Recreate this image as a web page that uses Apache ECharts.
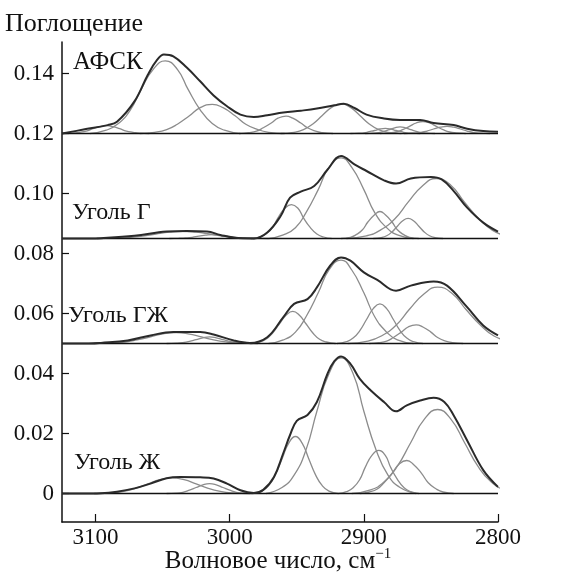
<!DOCTYPE html>
<html>
<head>
<meta charset="utf-8">
<script src="https://cdn.jsdelivr.net/npm/echarts@6/dist/echarts.min.js"></script>
<style>
  html, body { margin: 0; padding: 0; background: #fff; }
  #chart { width: 568px; height: 581px; }
</style>
</head>
<body>
<div id="chart"></div>
<script>
// ИК-спектры, разложение полосы 3100-2800 см-1 на компоненты
// значения поглощения даны относительно базовой линии каждой панели
const panelNames = ['АФСК', 'Уголь Г', 'Уголь ГЖ', 'Уголь Ж']
const panelOffsets = [0.12, 0.085, 0.05, 0]
const xTicks = [3100, 3000, 2900, 2800]
const yTicks = [0, 0.02, 0.04, 0.06, 0.08, 0.10, 0.12, 0.14]

// АФСК
const afskSum = [[3125,0],[3109,0.0013],[3091,0.0028],[3084,0.0039],[3071,0.0107],[3061,0.0196],[3054,0.0246],[3049,0.0263],[3042,0.0257],[3032,0.022],[3022,0.0174],[3012,0.0127],[3002,0.0091],[2992,0.0063],[2982,0.0055],[2972,0.0061],[2960,0.007],[2947,0.0076],[2935,0.0083],[2922,0.0094],[2915,0.0099],[2907,0.0085],[2898,0.0063],[2885,0.005],[2873,0.0045],[2858,0.0045],[2848,0.0035],[2833,0.0028],[2823,0.0016],[2811,0.0008],[2800,0.0006]]
const afskBands = [
  [[3124,0],[3117,0.0001],[3112,0.0004],[3107,0.0008],[3102,0.0016],[3097,0.0023],[3092,0.0026],[3087,0.0023],[3082,0.0016],[3077,0.0008],[3072,0.0004],[3067,0.0001],[3060,0]],
  [[3104,0],[3092,0.0011],[3083,0.0033],[3074,0.0079],[3066,0.0147],[3057,0.0214],[3048,0.0242],[3039,0.0214],[3031,0.0147],[3022,0.0079],[3013,0.0033],[3004,0.0011],[2992,0]],
  [[3067,0],[3056,0.0004],[3047,0.0013],[3039,0.0031],[3030,0.0059],[3022,0.0086],[3013,0.0097],[3005,0.0086],[2996,0.0059],[2988,0.0031],[2979,0.0013],[2971,0.0004],[2959,0]],
  [[2993,0],[2986,0.0003],[2980,0.0008],[2975,0.0019],[2969,0.0035],[2964,0.0051],[2958,0.0058],[2953,0.0051],[2947,0.0035],[2942,0.0019],[2936,0.0008],[2931,0.0003],[2923,0]],
  [[2962,0],[2952,0.0004],[2945,0.0013],[2938,0.0032],[2931,0.006],[2924,0.0087],[2917,0.0099],[2910,0.0087],[2903,0.006],[2896,0.0032],[2889,0.0013],[2882,0.0004],[2872,0]],
  [[2910,0],[2904,0.0001],[2900,0.0002],[2896,0.0006],[2892,0.001],[2888,0.0015],[2884,0.0017],[2880,0.0015],[2876,0.001],[2872,0.0006],[2868,0.0002],[2864,0.0001],[2858,0]],
  [[2899,0],[2893,0.0001],[2889,0.0003],[2885,0.0007],[2881,0.0013],[2877,0.0019],[2873,0.0022],[2869,0.0019],[2865,0.0013],[2861,0.0007],[2857,0.0003],[2853,0.0001],[2847,0]],
  [[2888,0],[2881,0.0002],[2876,0.0005],[2871,0.0013],[2866,0.0024],[2861,0.0035],[2856,0.004],[2851,0.0035],[2846,0.0024],[2841,0.0013],[2836,0.0005],[2831,0.0002],[2824,0]],
  [[2870,0],[2863,0.0001],[2858,0.0003],[2853,0.0008],[2848,0.0015],[2843,0.0021],[2838,0.0024],[2833,0.0021],[2828,0.0015],[2823,0.0008],[2818,0.0003],[2813,0.0001],[2806,0]]
]

// Уголь Г
const coalGSum = [[3125,0],[3105,0],[3096,0.0001],[3071,0.0009],[3047,0.0023],[3032,0.0025],[3017,0.0023],[3007,0.0012],[2997,0.0003],[2982,0],[2972,0.002],[2962,0.0075],[2955,0.0136],[2947,0.0156],[2937,0.0175],[2927,0.023],[2917,0.0275],[2907,0.0247],[2898,0.0225],[2885,0.0194],[2876,0.0183],[2865,0.02],[2850,0.0205],[2842,0.0197],[2833,0.0158],[2823,0.0103],[2811,0.0053],[2800,0.0023]]
const coalGBands = [
  [[3099,0],[3085,0.0001],[3075,0.0003],[3065,0.0008],[3055,0.0015],[3045,0.0021],[3035,0.0024],[3025,0.0021],[3015,0.0015],[3005,0.0008],[2995,0.0003],[2985,0.0001],[2971,0]],
  [[3045,0],[3038,0.0001],[3033,0.0002],[3028,0.0004],[3023,0.0008],[3018,0.0011],[3013,0.0013],[3008,0.0011],[3003,0.0008],[2998,0.0004],[2993,0.0002],[2988,0.0001],[2981,0]],
  [[2984,0],[2978,0.0005],[2973,0.0015],[2968,0.0037],[2964,0.0069],[2959,0.01],[2954,0.0113],[2949,0.01],[2945,0.0069],[2940,0.0037],[2935,0.0015],[2930,0.0005],[2924,0]],
  [[2971,0],[2960,0.0012],[2951,0.0036],[2943,0.0087],[2934,0.0163],[2926,0.0237],[2917,0.0269],[2909,0.0237],[2900,0.0163],[2892,0.0087],[2883,0.0036],[2875,0.0012],[2863,0]],
  [[2917,0],[2910,0.0004],[2906,0.0012],[2901,0.0029],[2897,0.0055],[2892,0.0079],[2888,0.009],[2884,0.0079],[2879,0.0055],[2875,0.0029],[2870,0.0012],[2866,0.0004],[2859,0]],
  [[2893,0],[2887,0.0003],[2883,0.0009],[2879,0.0022],[2875,0.0041],[2871,0.0059],[2867,0.0067],[2863,0.0059],[2859,0.0041],[2855,0.0022],[2851,0.0009],[2847,0.0003],[2841,0]],
  [[2913,0],[2898,0.0009],[2888,0.0027],[2877,0.0065],[2867,0.0121],[2856,0.0177],[2846,0.02],[2835,0.0177],[2825,0.0121],[2814,0.0065],[2804,0.0027],[2794,0.0009],[2779,0]]
]

// Уголь ГЖ
const coalGJSum = [[3125,0],[3105,0],[3096,0.0002],[3076,0.001],[3059,0.0027],[3042,0.0038],[3022,0.0038],[3012,0.003],[2997,0.001],[2985,0.0002],[2972,0.0021],[2960,0.0088],[2952,0.0132],[2942,0.0148],[2935,0.0187],[2925,0.026],[2917,0.0287],[2910,0.0276],[2900,0.0237],[2890,0.0212],[2876,0.0176],[2865,0.0193],[2848,0.0207],[2838,0.0193],[2823,0.0121],[2811,0.006],[2800,0.0027]]
const coalGJBands = [
  [[3101,0],[3088,0.0002],[3078,0.0005],[3069,0.0012],[3059,0.0022],[3050,0.0032],[3040,0.0036],[3031,0.0032],[3021,0.0022],[3012,0.0012],[3002,0.0005],[2993,0.0002],[2979,0]],
  [[3047,0],[3040,0.0001],[3035,0.0003],[3030,0.0007],[3025,0.0013],[3020,0.0019],[3015,0.0022],[3010,0.0019],[3005,0.0013],[3000,0.0007],[2995,0.0003],[2990,0.0001],[2983,0]],
  [[2985,0],[2978,0.0005],[2973,0.0014],[2968,0.0035],[2963,0.0065],[2958,0.0094],[2953,0.0107],[2948,0.0094],[2943,0.0065],[2938,0.0035],[2933,0.0014],[2928,0.0005],[2921,0]],
  [[2971,0],[2960,0.0012],[2951,0.0038],[2943,0.009],[2934,0.0169],[2926,0.0245],[2917,0.0278],[2909,0.0245],[2900,0.0169],[2892,0.009],[2883,0.0038],[2875,0.0012],[2863,0]],
  [[2920,0],[2913,0.0006],[2908,0.0018],[2903,0.0043],[2898,0.008],[2893,0.0116],[2888,0.0132],[2883,0.0116],[2878,0.008],[2873,0.0043],[2868,0.0018],[2863,0.0006],[2856,0]],
  [[2896,0],[2889,0.0003],[2883,0.0008],[2878,0.002],[2872,0.0038],[2867,0.0055],[2861,0.0062],[2856,0.0055],[2850,0.0038],[2845,0.002],[2839,0.0008],[2834,0.0003],[2826,0]],
  [[2912,0],[2897,0.0008],[2887,0.0025],[2876,0.0061],[2866,0.0114],[2855,0.0166],[2845,0.0188],[2834,0.0166],[2824,0.0114],[2813,0.0061],[2803,0.0025],[2792,0.0008],[2778,0]]
]

// Уголь Ж
const coalJSum = [[3125,0],[3110,0],[3096,0.0001],[3084,0.0006],[3071,0.0017],[3059,0.0033],[3047,0.0051],[3037,0.0055],[3022,0.0054],[3012,0.005],[3002,0.0033],[2992,0.0011],[2982,0.0002],[2975,0.0012],[2967,0.0055],[2960,0.0135],[2955,0.0195],[2950,0.0242],[2942,0.0262],[2935,0.0305],[2927,0.04],[2922,0.0441],[2917,0.0457],[2910,0.0432],[2903,0.0382],[2895,0.0344],[2885,0.0305],[2876,0.0274],[2868,0.0294],[2858,0.031],[2848,0.0319],[2840,0.0305],[2833,0.026],[2823,0.0177],[2811,0.0078],[2800,0.0022]]
const coalJBands = [
  [[3101,0],[3088,0.0002],[3079,0.0007],[3070,0.0017],[3061,0.0032],[3052,0.0046],[3043,0.0052],[3034,0.0046],[3025,0.0032],[3016,0.0017],[3007,0.0007],[2998,0.0002],[2985,0]],
  [[3047,0],[3040,0.0001],[3035,0.0004],[3030,0.0011],[3025,0.002],[3020,0.0029],[3015,0.0033],[3010,0.0029],[3005,0.002],[3000,0.0011],[2995,0.0004],[2990,0.0001],[2983,0]],
  [[2983,0],[2976,0.0008],[2971,0.0026],[2966,0.0062],[2961,0.0115],[2956,0.0168],[2951,0.019],[2946,0.0168],[2941,0.0115],[2936,0.0062],[2931,0.0026],[2926,0.0008],[2919,0]],
  [[2973,0],[2961,0.002],[2952,0.0061],[2943,0.0147],[2935,0.0274],[2926,0.0399],[2917,0.0452],[2908,0.0399],[2900,0.0274],[2891,0.0147],[2882,0.0061],[2873,0.002],[2861,0]],
  [[2919,0],[2913,0.0006],[2908,0.0019],[2903,0.0047],[2899,0.0087],[2894,0.0127],[2889,0.0144],[2884,0.0127],[2880,0.0087],[2875,0.0047],[2870,0.0019],[2865,0.0006],[2859,0]],
  [[2903,0],[2896,0.0005],[2890,0.0015],[2885,0.0036],[2879,0.0067],[2874,0.0097],[2868,0.011],[2863,0.0097],[2857,0.0067],[2852,0.0036],[2846,0.0015],[2841,0.0005],[2833,0]],
  [[2909,0],[2895,0.0012],[2885,0.0038],[2875,0.0091],[2865,0.017],[2855,0.0247],[2845,0.028],[2835,0.0247],[2825,0.017],[2815,0.0091],[2805,0.0038],[2795,0.0012],[2781,0]]
]

const panelSums = [afskSum, coalGSum, coalGJSum, coalJSum]
const panelBands = [afskBands, coalGBands, coalGJBands, coalJBands]
// положение подписей панелей (px)
const panelLabelPos = [[73, 62], [72, 213], [68, 316], [74, 463]]
const panelLabelSize = [25, 24, 24, 24]

const FONT = '"Liberation Serif", "DejaVu Serif", serif'

const shift = (arr, off) => arr.map((p) => [p[0], p[1] + off])

const series = []
panelOffsets.forEach((off, i) => {
  panelBands[i].forEach((band) => {
    series.push({
      type: 'line',
      data: shift(band, off),
      smooth: 0.5,
      showSymbol: false,
      symbol: 'none',
      lineStyle: { color: '#8c8c8c', width: 1.3 },
      z: 2,
    })
  })
  // базовая линия панели
  series.push({
    type: 'line',
    data: [[3125, off], [2800, off]],
    showSymbol: false,
    symbol: 'none',
    lineStyle: { color: '#111', width: 1.5 },
    z: 3,
  })
  series.push({
    type: 'line',
    data: shift(panelSums[i], off),
    smooth: 0.4,
    showSymbol: false,
    symbol: 'none',
    lineStyle: { color: '#2a2a2a', width: 2 },
    z: 4,
  })
})

const graphic = [
  {
    type: 'text', left: 5, top: 11,
    style: { text: 'Поглощение', font: '26px ' + FONT, fill: '#111' },
  },
  {
    type: 'text', x: 278, y: 561,
    style: {
      text: '{a|Волновое число, см}{s|−1}',
      align: 'center', verticalAlign: 'middle',
      rich: {
        a: { font: '25px ' + FONT, fill: '#111', lineHeight: 28 },
        s: { font: '15px ' + FONT, fill: '#111', verticalAlign: 'top', lineHeight: 28, padding: [0, 0, 14, 0] },
      },
    },
  },
]
panelNames.forEach((name, i) => {
  graphic.push({
    type: 'text', x: panelLabelPos[i][0], y: panelLabelPos[i][1],
    style: { text: name, font: panelLabelSize[i] + 'px ' + FONT, fill: '#111', verticalAlign: 'middle' },
    z: 10,
  })
})

const chart = echarts.init(document.getElementById('chart'))
chart.setOption({
  animation: false,
  backgroundColor: '#fff',
  grid: { left: 62, right: 70, top: 42, bottom: 59, outerBoundsMode: 'none' },
  xAxis: {
    type: 'value',
    inverse: true,
    min: 2800,
    max: 3125,
    axisLine: { onZero: false, lineStyle: { color: '#111', width: 1.5 } },
    axisTick: { inside: true, length: 8, customValues: xTicks, lineStyle: { color: '#111', width: 1.2 } },
    axisLabel: {
      customValues: xTicks,
      margin: 4,
      color: '#111',
      fontSize: 23,
      fontFamily: FONT,
      formatter: (v) => String(v),
    },
    splitLine: { show: false },
  },
  yAxis: {
    type: 'value',
    min: -0.0095,
    max: 0.1505,
    axisLine: { show: true, onZero: false, lineStyle: { color: '#111', width: 1.5 } },
    axisTick: { show: true, inside: true, length: 7, customValues: yTicks, lineStyle: { color: '#111', width: 1.2 } },
    axisLabel: {
      customValues: yTicks,
      margin: 8,
      color: '#111',
      fontSize: 23,
      fontFamily: FONT,
      formatter: (v) => (v === 0 ? '0' : v.toFixed(2)),
    },
    splitLine: { show: false },
  },
  graphic: graphic,
  series: series,
})
</script>
</body>
</html>
